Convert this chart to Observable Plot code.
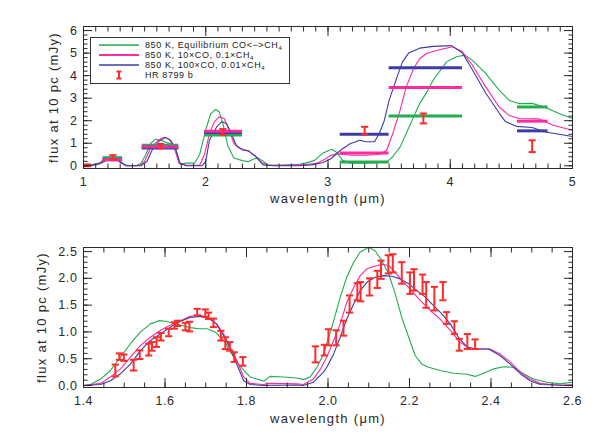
<!DOCTYPE html>
<html><head><meta charset="utf-8">
<script src="https://cdn.jsdelivr.net/npm/d3@7"></script>
<script src="https://cdn.jsdelivr.net/npm/@observablehq/plot@0.6"></script>
<style>
body{margin:0;background:#fff;font-family:"Liberation Sans",Arial,sans-serif;}
#wrap{position:relative;width:598px;height:441px;overflow:hidden;}
#wrap svg{display:block;}
.legend{position:absolute;left:90px;top:37px;width:200px;height:47px;border:1px solid #333;box-sizing:border-box;background:#fff;font-size:9px;color:#222;letter-spacing:0.6px;}
.legend .row{position:absolute;left:0;height:10px;line-height:10px;}
.legend .txt{position:absolute;left:54px;top:0;white-space:nowrap;line-height:10px;}
.legend sub{font-size:6px;vertical-align:-2px;line-height:0;letter-spacing:0;}
.legend svg{position:absolute;left:6px;top:0;}
</style></head>
<body><div id="wrap"></div>
<script>
// ---------- TOP PANEL DATA (wavelength µm, flux mJy) ----------
const topGreen = [[1.00,0.0],[1.05,0.05],[1.08,0.07],[1.13,0.13],[1.17,0.30],[1.21,0.37],[1.27,0.35],[1.31,0.16],[1.35,0.02],[1.43,0.0],[1.47,0.10],[1.51,0.50],[1.55,1.00],[1.59,1.18],[1.63,1.14],[1.67,1.05],[1.72,0.95],[1.75,0.84],[1.77,0.45],[1.79,0.08],[1.84,0.12],[1.91,0.12],[1.95,0.50],[2.00,1.60],[2.04,2.30],[2.08,2.50],[2.11,2.40],[2.14,1.88],[2.18,0.90],[2.23,0.35],[2.30,0.23],[2.35,0.18],[2.39,0.30],[2.43,0.34],[2.47,0.20],[2.51,0.03],[2.60,0.02],[2.70,0.05],[2.77,0.07],[2.82,0.13],[2.89,0.24],[2.96,0.57],[3.03,0.73],[3.07,0.60],[3.12,0.24],[3.18,0.12],[3.31,0.12],[3.48,0.16],[3.53,0.40],[3.59,0.84],[3.64,1.43],[3.70,2.17],[3.75,2.76],[3.81,3.28],[3.86,3.80],[3.92,4.24],[3.97,4.61],[4.05,4.84],[4.12,4.91],[4.18,4.69],[4.29,4.10],[4.40,3.36],[4.48,2.91],[4.56,2.76],[4.67,2.77],[4.78,2.59],[4.89,2.32],[5.00,2.10]];
const topPink = [[1.00,0.0],[1.08,0.04],[1.13,0.10],[1.18,0.27],[1.27,0.30],[1.31,0.14],[1.35,0.0],[1.46,0.02],[1.50,0.20],[1.55,0.80],[1.61,1.13],[1.66,1.27],[1.70,1.18],[1.74,0.84],[1.78,0.13],[1.84,0.02],[1.95,0.02],[1.99,0.50],[2.03,1.43],[2.07,1.95],[2.11,2.17],[2.15,2.10],[2.19,1.60],[2.23,1.00],[2.27,0.80],[2.31,0.72],[2.35,0.66],[2.41,0.42],[2.46,0.13],[2.51,0.02],[2.70,0.03],[2.80,0.05],[2.90,0.10],[2.96,0.25],[3.02,0.45],[3.07,0.54],[3.12,0.50],[3.20,0.47],[3.31,0.47],[3.42,0.50],[3.48,0.69],[3.53,1.43],[3.59,2.47],[3.64,3.50],[3.70,4.32],[3.75,4.76],[3.81,4.99],[3.92,5.16],[4.02,5.28],[4.10,5.06],[4.18,4.47],[4.29,3.50],[4.40,2.61],[4.48,2.24],[4.56,2.10],[4.73,2.08],[4.84,1.80],[5.00,1.58]];
const topBlue = [[1.00,0.0],[1.08,0.03],[1.13,0.08],[1.19,0.25],[1.27,0.28],[1.31,0.12],[1.35,0.0],[1.47,0.0],[1.52,0.20],[1.57,0.80],[1.62,1.10],[1.67,1.25],[1.71,1.15],[1.75,0.80],[1.79,0.10],[1.84,0.0],[1.97,0.0],[2.00,0.20],[2.03,1.13],[2.09,1.73],[2.13,1.95],[2.17,1.88],[2.21,1.43],[2.25,0.90],[2.30,0.70],[2.35,0.66],[2.41,0.40],[2.47,0.04],[2.55,0.0],[2.75,0.0],[2.87,0.04],[2.96,0.15],[3.02,0.30],[3.10,0.68],[3.18,0.98],[3.26,1.13],[3.31,1.07],[3.38,1.07],[3.42,1.43],[3.46,2.00],[3.50,2.90],[3.56,3.87],[3.61,4.62],[3.66,5.00],[3.75,5.22],[3.86,5.30],[4.01,5.33],[4.10,5.00],[4.18,4.27],[4.29,3.23],[4.40,2.34],[4.45,1.97],[4.54,1.75],[4.67,1.70],[4.78,1.50],[5.00,1.30]];
// band-integrated model fluxes
const bandLo = [1.16, 1.48, 1.99, 3.10, 3.50, 4.55];
const bandHi = [1.32, 1.78, 2.30, 3.50, 4.10, 4.80];
const bandGreen = [0.36, 0.91, 1.37, 0.17, 2.21, 2.61];
const bandPink = [0.27, 0.84, 1.53, 0.57, 3.47, 1.98];
const bandBlue = [0.27, 0.79, 1.48, 1.40, 4.35, 1.55];
// HR 8799 b photometry
const photX = [1.03, 1.24, 1.63, 2.14, 3.30, 3.78, 4.67];
const photY = [0.02, 0.37, 0.87, 1.50, 1.56, 2.10, 0.87];
const photErr = [0.04, 0.10, 0.10, 0.13, 0.17, 0.22, 0.26];

// ---------- BOTTOM PANEL DATA ----------
const botGreen = [[1.400,0.00],[1.417,0.02],[1.442,0.12],[1.466,0.28],[1.491,0.53],[1.515,0.78],[1.540,1.00],[1.564,1.15],[1.585,1.21],[1.601,1.20],[1.621,1.16],[1.642,1.12],[1.662,1.08],[1.683,1.06],[1.703,1.06],[1.723,1.00],[1.744,0.84],[1.764,0.59],[1.781,0.40],[1.797,0.25],[1.809,0.16],[1.826,0.12],[1.842,0.08],[1.858,0.17],[1.891,0.16],[1.924,0.14],[1.940,0.11],[1.956,0.16],[1.973,0.34],[1.989,0.59],[2.005,0.98],[2.014,1.21],[2.030,1.65],[2.046,2.02],[2.063,2.30],[2.079,2.49],[2.100,2.58],[2.116,2.51],[2.132,2.33],[2.149,2.08],[2.165,1.71],[2.181,1.27],[2.198,0.90],[2.214,0.56],[2.230,0.40],[2.243,0.35],[2.275,0.28],[2.308,0.23],[2.341,0.21],[2.361,0.17],[2.382,0.23],[2.406,0.31],[2.431,0.35],[2.455,0.34],[2.480,0.22],[2.504,0.12],[2.537,0.06],[2.569,0.03],[2.600,0.06]];
const botPink = [[1.400,0.00],[1.442,0.04],[1.466,0.16],[1.491,0.31],[1.515,0.53],[1.540,0.75],[1.564,0.90],[1.589,1.03],[1.613,1.13],[1.638,1.21],[1.662,1.29],[1.687,1.31],[1.707,1.26],[1.727,1.15],[1.744,0.96],[1.760,0.72],[1.776,0.47],[1.793,0.16],[1.809,0.04],[1.842,0.02],[1.858,0.04],[1.924,0.03],[1.940,0.02],[1.964,0.12],[1.981,0.30],[1.997,0.53],[2.014,0.84],[2.030,1.15],[2.046,1.55],[2.063,1.83],[2.079,2.05],[2.096,2.18],[2.112,2.22],[2.132,2.26],[2.149,2.24],[2.165,2.11],[2.181,1.96],[2.202,1.80],[2.226,1.59],[2.251,1.40],[2.275,1.24],[2.300,1.03],[2.324,0.81],[2.349,0.68],[2.373,0.68],[2.398,0.68],[2.422,0.59],[2.447,0.44],[2.472,0.25],[2.496,0.12],[2.521,0.04],[2.569,0.00],[2.600,0.02]];
const botBlue = [[1.400,0.00],[1.442,0.02],[1.466,0.09],[1.491,0.22],[1.515,0.40],[1.540,0.65],[1.564,0.84],[1.589,0.96],[1.613,1.09],[1.638,1.20],[1.662,1.27],[1.687,1.29],[1.707,1.26],[1.727,1.14],[1.744,0.93],[1.760,0.68],[1.776,0.40],[1.793,0.09],[1.809,0.02],[1.842,0.00],[1.924,0.01],[1.940,0.00],[1.964,0.06],[1.989,0.25],[1.997,0.34],[2.014,0.59],[2.030,0.90],[2.046,1.24],[2.063,1.52],[2.079,1.77],[2.096,1.93],[2.116,2.02],[2.136,2.05],[2.157,2.04],[2.177,1.99],[2.198,1.90],[2.218,1.77],[2.239,1.65],[2.259,1.49],[2.279,1.34],[2.300,1.15],[2.320,0.90],[2.341,0.72],[2.365,0.68],[2.394,0.68],[2.422,0.56],[2.447,0.40],[2.472,0.22],[2.496,0.09],[2.521,0.02],[2.600,0.00]];
// HR 8799 b spectrum (H and K)
const specX = [1.478,1.488,1.499,1.523,1.538,1.560,1.568,1.579,1.590,1.609,1.623,1.631,1.650,1.660,1.679,1.699,1.707,1.719,1.737,1.748,1.759,1.770,1.791,1.969,1.991,2.001,2.020,2.038,2.053,2.072,2.080,2.102,2.121,2.130,2.148,2.159,2.181,2.201,2.211,2.232,2.241,2.261,2.282,2.291,2.310,2.322,2.342,2.361];
const specY = [0.28,0.54,0.52,0.38,0.575,0.67,0.73,0.81,0.91,0.99,1.12,1.16,1.10,1.10,1.37,1.35,1.30,1.17,0.93,0.79,0.73,0.53,0.45,0.58,0.66,0.90,0.89,1.07,1.52,1.75,1.75,1.84,1.98,2.16,2.26,2.28,2.10,1.91,1.97,1.89,1.69,1.62,1.76,1.26,1.08,0.76,0.82,0.77];
const specErr = [0.11,0.06,0.06,0.10,0.08,0.11,0.08,0.09,0.07,0.07,0.06,0.05,0.07,0.09,0.06,0.07,0.06,0.08,0.09,0.11,0.08,0.09,0.08,0.15,0.10,0.15,0.14,0.14,0.16,0.16,0.18,0.16,0.16,0.17,0.17,0.17,0.20,0.20,0.20,0.18,0.24,0.22,0.17,0.11,0.12,0.11,0.14,0.09];

// ---------- TICKS / LABELS ----------
const topXTicks = [1,2,3,4,5];
const topYTicks = [0,1,2,3,4,5,6];
const botXTicks = [1.4,1.6,1.8,2.0,2.2,2.4,2.6];
const botYTicks = [0.0,0.5,1.0,1.5,2.0,2.5];
const yLabel = "flux at 10 pc (mJy)";
const xLabel = "wavelength (\u03bcm)";
const seriesNames = ["850 K, Equilibrium CO<\u2212>CH", "850 K, 10\u00d7CO, 0.1\u00d7CH", "850 K, 100\u00d7CO, 0.01\u00d7CH", "HR 8799 b"];

const COL = {green:"#22ad50", pink:"#ff2a9d", blue:"#3c3ca6", red:"#ff2b2b", ink:"#2a2a2a"};

const capSymbol = { draw(ctx, size){ const w = Math.sqrt(size/Math.PI); ctx.moveTo(-w,0); ctx.lineTo(w,0);} };

function errorMarks(xs, ys, es){
  const d = xs.map((x,i)=>({x, y: ys[i], e: es[i]}));
  return [
    Plot.ruleX(d, {x:"x", y1: d=>d.y-d.e, y2: d=>d.y+d.e, stroke: COL.red, strokeWidth: 2}),
    Plot.dot(d, {x:"x", y: d=>d.y-d.e, symbol: capSymbol, r: 3.6, stroke: COL.red, strokeWidth: 2, fill: "none"}),
    Plot.dot(d, {x:"x", y: d=>d.y+d.e, symbol: capSymbol, r: 3.6, stroke: COL.red, strokeWidth: 2, fill: "none"})
  ];
}

function frameAxes(xTicks, yTicks, xMinor, yMinor, xFmt, yFmt){
  const blank = () => "";
  const m = [];
  for (const a of ["bottom","top"]) {
    m.push(Plot.axisX(xTicks, {anchor:a, tickSize:-9, tickFormat: blank, label:null, stroke: COL.ink}));
    m.push(Plot.axisX(xMinor, {anchor:a, tickSize:-4.5, tickFormat: blank, label:null, stroke: COL.ink}));
  }
  for (const a of ["left","right"]) {
    m.push(Plot.axisY(yTicks, {anchor:a, tickSize:-9, tickFormat: blank, label:null, stroke: COL.ink}));
    m.push(Plot.axisY(yMinor, {anchor:a, tickSize:-4.5, tickFormat: blank, label:null, stroke: COL.ink}));
  }
  m.push(Plot.axisX(xTicks, {anchor:"bottom", tickSize:0, tickPadding:9, tickFormat: xFmt, label:null, fontSize: 12.5, fill: COL.ink}));
  m.push(Plot.axisY(yTicks, {anchor:"left", tickSize:0, tickPadding:6, tickFormat: yFmt, label:null, fontSize: 12.5, fill: COL.ink}));
  return m;
}

function lineOf(data, color){
  return Plot.line(data, {x: d=>d[0], y: d=>d[1], stroke: color, strokeWidth: 1.1});
}

// ---------- TOP PANEL ----------
const bands = bandLo.map((lo,i)=>({lo, hi: bandHi[i], g: bandGreen[i], p: bandPink[i], b: bandBlue[i]}));
const topXMinor = d3.range(1, 5.001, 0.1).map(v=>+v.toFixed(2));
const topYMinor = d3.range(0, 6.001, 0.2).map(v=>+v.toFixed(2));
const topPlot = Plot.plot({
  width: 598, height: 220,
  marginLeft: 83, marginRight: 26, marginTop: 26, marginBottom: 52,
  x: {domain: [1,5]}, y: {domain: [-0.12, 6.18]},
  style: {fontFamily: '"Liberation Sans", Arial, sans-serif', color: COL.ink, background: "#fff"},
  marks: [
    lineOf(topGreen, COL.green), lineOf(topPink, COL.pink), lineOf(topBlue, COL.blue),
    Plot.ruleY(bands, {x1:"lo", x2:"hi", y:"g", stroke: COL.green, strokeWidth: 3}),
    Plot.ruleY(bands, {x1:"lo", x2:"hi", y:"b", stroke: COL.blue, strokeWidth: 3}),
    Plot.ruleY(bands, {x1:"lo", x2:"hi", y:"p", stroke: COL.pink, strokeWidth: 3}),
    ...errorMarks(photX, photY, photErr),
    Plot.frame({stroke: COL.ink}),
    ...frameAxes(topXTicks, topYTicks, topXMinor, topYMinor, d3.format("d"), d3.format("d")),
    Plot.text([yLabel], {text: d=>d, frameAnchor:"left", textAnchor:"middle", dx:-30, rotate:-90, fontSize: 13, fill: COL.ink}),
    Plot.text([xLabel], {text: d=>d, frameAnchor:"bottom", textAnchor:"middle", dy:34, fontSize: 13, fill: COL.ink})
  ]
});

// ---------- BOTTOM PANEL ----------
const botXMinor = d3.range(1.4, 2.6001, 0.05).map(v=>+v.toFixed(2));
const botYMinor = d3.range(0, 2.5001, 0.1).map(v=>+v.toFixed(2));
const bottomPlot = Plot.plot({
  width: 598, height: 221,
  marginLeft: 83, marginRight: 26, marginTop: 27, marginBottom: 54,
  x: {domain: [1.4,2.6]}, y: {domain: [-0.037, 2.575]},
  style: {fontFamily: '"Liberation Sans", Arial, sans-serif', color: COL.ink, background: "#fff"},
  marks: [
    lineOf(botGreen, COL.green), lineOf(botPink, COL.pink), lineOf(botBlue, COL.blue),
    ...errorMarks(specX, specY, specErr),
    Plot.frame({stroke: COL.ink}),
    ...frameAxes(botXTicks, botYTicks, botXMinor, botYMinor, d3.format(".1f"), d3.format(".1f")),
    Plot.text([yLabel], {text: d=>d, frameAnchor:"left", textAnchor:"middle", dx:-42, rotate:-90, fontSize: 13, fill: COL.ink}),
    Plot.text([xLabel], {text: d=>d, frameAnchor:"bottom", textAnchor:"middle", dy:35, fontSize: 13, fill: COL.ink})
  ]
});

const wrap = document.getElementById("wrap");
wrap.appendChild(topPlot);
wrap.appendChild(bottomPlot);
for (const svg of [topPlot, bottomPlot]) {
  d3.select(svg).selectAll('g[aria-label="text"] text').style("letter-spacing", "1.3px");
  d3.select(svg).selectAll('g[aria-label$="tick label"] text').style("letter-spacing", "0.6px");
}

// ---------- LEGEND ----------
const leg = document.createElement("div");
leg.className = "legend";
const rowTops = [2, 12, 22, 32];
const legColors = [COL.green, COL.pink, COL.blue];
seriesNames.forEach((name, i) => {
  const row = document.createElement("div");
  row.className = "row";
  row.style.top = rowTops[i] + "px";
  let sym;
  if (i < 3) {
    sym = `<svg width="44" height="10"><line x1="2" x2="42" y1="5" y2="5" stroke="${legColors[i]}" stroke-width="${i===1?2:1.3}"/></svg>`;
  } else {
    sym = `<svg width="44" height="10"><path d="M19.5,1.5H24.5M22,1.5V8.5M19.5,8.5H24.5" stroke="${COL.red}" stroke-width="2" fill="none"/></svg>`;
  }
  row.innerHTML = sym + `<span class="txt">${name.replace(/</g,"&lt;").replace(/>/g,"&gt;")}${i<3?"<sub>4</sub>":""}</span>`;
  leg.appendChild(row);
});
wrap.appendChild(leg);
</script>
</body></html>
